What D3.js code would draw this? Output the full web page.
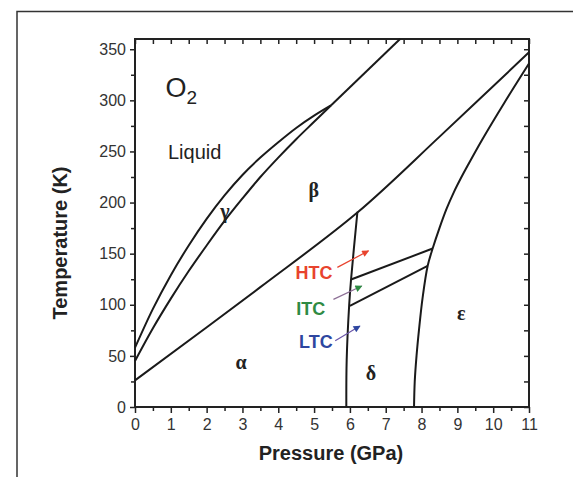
<!DOCTYPE html>
<html>
<head>
<meta charset="utf-8">
<script src="https://cdn.jsdelivr.net/npm/d3@7/dist/d3.min.js"></script>
<style>
html,body{margin:0;padding:0;background:#fff;}
svg{display:block;}
</style>
</head>
<body>
<svg id="chart" width="573" height="477"></svg>
<script>
// ---- data ----
const pressureTicks = [0,1,2,3,4,5,6,7,8,9,10,11];
const tempTicks = [0,50,100,150,200,250,300,350];

// Liquid / gamma boundary (melting curve up to triple point)
const meltLowP = [0, 0.5, 1, 1.5, 2, 2.5, 3, 3.5, 4, 4.5, 5, 5.47];
const meltLowT = [58, 96, 129, 158, 184, 207, 227, 244, 259, 273, 285, 295];
// Liquid / beta boundary (melting curve above triple point)
const meltHighP = [5.47, 7.4];
const meltHighT = [295, 360];
// gamma / beta boundary
const gbP = [0, 0.5, 1, 1.5, 2, 2.5, 3, 3.5, 4, 4.5, 5, 5.47];
const gbT = [45, 77, 106, 133, 158, 182, 204, 225, 244, 262, 279, 295];
// alpha / beta and beta / epsilon boundary
const abP = [0, 3.49, 6.2, 8.52, 11];
const abT = [26, 117, 190, 265, 347];
// alpha / delta boundary
const adP = [5.9, 5.91, 5.98, 6.03, 6.21];
const adT = [0, 46, 100, 124, 191];
// delta / epsilon and beta / epsilon boundary
const deP = [7.79, 7.81, 7.86, 7.93, 8.03, 8.17, 8.31, 8.5, 8.7, 8.9, 9.1, 9.3, 9.7, 10.3, 11];
const deT = [0, 25, 50, 76, 107, 138, 155, 175, 194, 210, 224, 237, 262, 297, 336];
// short boundaries inside delta
const upperP = [6.05, 8.31];
const upperT = [125, 155];
const lowerP = [6.0, 8.17];
const lowerT = [99, 138];

// phase labels
const phaseNames = ["α","β","γ","δ","ε"];
const phaseP = [2.96, 4.99, 2.51, 6.59, 9.11];
const phaseT = [44, 212, 192, 33, 92];

// transition arrows
const arrowNames = ["HTC","ITC","LTC"];
const arrowP0 = [5.65, 5.54, 5.59];
const arrowT0 = [136.6, 105.3, 64.8];
const arrowP1 = [6.52, 6.33, 6.28];
const arrowT1 = [152.8, 118.3, 79.2];
const arrowTextP = [5.0, 4.91, 5.05];
const arrowTextT = [131, 96, 63.6];

// ---- drawing ----
const svg = d3.select("#chart");
const x = d3.scaleLinear().domain([0, 11]).range([135, 529]);
const y = d3.scaleLinear().domain([0, 360]).range([407, 39]);

// outer frame
svg.append("rect").attr("x", 17).attr("y", 11.5).attr("width", 600).attr("height", 500)
  .attr("fill", "none").attr("stroke", "#333").attr("stroke-width", 1.5);

const font = "'Liberation Sans', Arial, Helvetica, sans-serif";

// axes
const minorX = d3.range(0.5, 11, 1);
const minorY = d3.range(25, 360, 50);

function styleAxis(g) {
  g.selectAll(".domain").remove();
  g.selectAll("line").attr("stroke", "#222").attr("stroke-width", 1.5);
  g.selectAll("text").attr("font-family", font).attr("font-size", 16).attr("fill", "#333");
}

svg.append("g").attr("transform", "translate(0,407)")
  .call(d3.axisBottom(x).tickValues(pressureTicks).tickFormat(d3.format("d")).tickSize(6).tickPadding(6))
  .call(styleAxis);
svg.append("g").attr("transform", "translate(0,407)")
  .call(d3.axisBottom(x).tickValues(minorX).tickFormat("").tickSize(4))
  .call(styleAxis);
svg.append("g").attr("transform", "translate(135,0)")
  .call(d3.axisLeft(y).tickValues(tempTicks).tickFormat(d3.format("d")).tickSize(5).tickPadding(4))
  .call(styleAxis);
svg.append("g").attr("transform", "translate(135,0)")
  .call(d3.axisLeft(y).tickValues(minorY).tickFormat("").tickSize(4))
  .call(styleAxis);
svg.append("g").attr("transform", "translate(0,39)")
  .call(d3.axisBottom(x).tickValues(pressureTicks.concat(minorX)).tickFormat("").tickSize(5))
  .call(styleAxis);
svg.append("g").attr("transform", "translate(529,0)")
  .call(d3.axisLeft(y).tickValues(tempTicks.concat(minorY)).tickFormat("").tickSize(5))
  .call(styleAxis);

// plot frame
svg.append("rect").attr("x", 135).attr("y", 39).attr("width", 394).attr("height", 368)
  .attr("fill", "none").attr("stroke", "#222").attr("stroke-width", 2);

// curves
const line = d3.line().x(d => x(d[0])).y(d => y(d[1])).curve(d3.curveCatmullRom.alpha(0.5));
const straight = d3.line().x(d => x(d[0])).y(d => y(d[1]));
const zip = (a, b) => a.map((v, i) => [v, b[i]]);

const curves = [[meltLowP, meltLowT], [gbP, gbT], [abP, abT], [adP, adT], [deP, deT]];
curves.forEach(c => {
  svg.append("path").attr("d", line(zip(c[0], c[1])))
    .attr("fill", "none").attr("stroke", "#1a1a1a").attr("stroke-width", 2);
});
[[meltHighP, meltHighT], [upperP, upperT], [lowerP, lowerT]].forEach(c => {
  svg.append("path").attr("d", straight(zip(c[0], c[1])))
    .attr("fill", "none").attr("stroke", "#1a1a1a").attr("stroke-width", 2);
});

// phase labels
phaseNames.forEach((n, i) => {
  svg.append("text").attr("x", x(phaseP[i])).attr("y", y(phaseT[i]))
    .attr("text-anchor", "middle").attr("dominant-baseline", "central")
    .attr("font-family", "'Liberation Serif', 'Times New Roman', serif")
    .attr("font-weight", "bold").attr("font-size", 20).attr("fill", "#222").text(n);
});

// O2 and Liquid
const o2 = svg.append("text").attr("x", x(0.85)).attr("y", y(303))
  .attr("font-family", font).attr("font-size", 27).attr("fill", "#222");
o2.append("tspan").text("O");
o2.append("tspan").attr("font-size", 19).attr("dy", 7).text("2");
svg.append("text").attr("x", x(0.92)).attr("y", y(243))
  .attr("font-family", font).attr("font-size", 20).attr("fill", "#222").text("Liquid");

// arrows
const arrowColors = ["#e8432e", "#2e8b43", "#2e46a0"];
const arrowLineColors = ["#e8432e", "#8c6e95", "#6a55a8"];
const defs = svg.append("defs");
arrowColors.forEach((c, i) => {
  defs.append("marker").attr("id", "ah" + i).attr("viewBox", "0 0 10 10")
    .attr("refX", 9).attr("refY", 5).attr("markerWidth", 9).attr("markerHeight", 7)
    .attr("orient", "auto").attr("markerUnits", "userSpaceOnUse")
    .append("path").attr("d", "M0,0 L10,5 L0,10 z").attr("fill", c);
});
arrowNames.forEach((n, i) => {
  svg.append("line").attr("x1", x(arrowP0[i])).attr("y1", y(arrowT0[i]))
    .attr("x2", x(arrowP1[i])).attr("y2", y(arrowT1[i]))
    .attr("stroke", arrowLineColors[i]).attr("stroke-width", 1.2)
    .attr("marker-end", "url(#ah" + i + ")");
  svg.append("text").attr("x", x(arrowTextP[i])).attr("y", y(arrowTextT[i]))
    .attr("text-anchor", "middle").attr("dominant-baseline", "central")
    .attr("font-family", font).attr("font-weight", "bold").attr("font-size", 18)
    .attr("fill", arrowColors[i]).text(n);
});

// axis titles
svg.append("text").attr("x", 331).attr("y", 460).attr("text-anchor", "middle")
  .attr("font-family", font).attr("font-weight", "bold").attr("font-size", 20).attr("fill", "#222")
  .text("Pressure (GPa)");
svg.append("text").attr("transform", "translate(67,243) rotate(-90)").attr("text-anchor", "middle")
  .attr("font-family", font).attr("font-weight", "bold").attr("font-size", 20).attr("fill", "#222")
  .text("Temperature (K)");
</script>
</body>
</html>
